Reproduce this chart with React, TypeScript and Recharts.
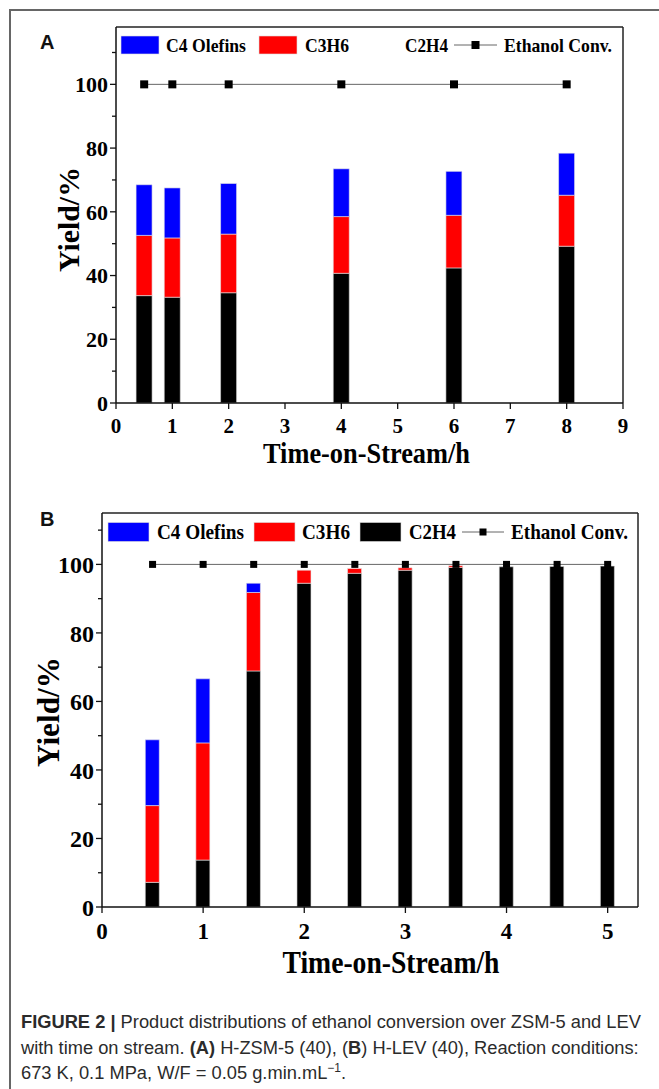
import React from "react";
import { ComposedChart, Bar, Line, XAxis, YAxis, ReferenceLine } from "recharts";

// Panel A: H-ZSM-5 (40)
const timesA = [0.5, 1, 2, 4, 6, 8];
const ethyleneA = [33.7, 33.2, 34.6, 40.7, 42.4, 49.2];
const propyleneA = [18.9, 18.6, 18.4, 17.8, 16.5, 16.0];
const olefinsC4A = [15.9, 15.7, 15.9, 15.0, 13.8, 13.2];
const convA = [100, 100, 100, 100, 100, 100];
const xTicksA = [0, 1, 2, 3, 4, 5, 6, 7, 8, 9];

// Panel B: H-LEV (40)
const timesB = [0.5, 1, 1.5, 2, 2.5, 3, 3.5, 4, 4.5, 5];
const ethyleneB = [7.2, 13.7, 68.9, 94.5, 97.4, 98.3, 99.1, 99.3, 99.4, 99.5];
const propyleneB = [22.4, 34.2, 22.9, 3.8, 1.4, 0.7, 0.5, 0, 0, 0];
const olefinsC4B = [19.2, 18.7, 2.7, 0, 0, 0, 0, 0, 0, 0];
const convB = [100, 100, 100, 100, 100, 100, 100, 100, 100, 100];
const xTicksB = [0, 1, 2, 3, 4, 5];

const yTicks = [0, 10, 20, 30, 40, 50, 60, 70, 80, 90, 100, 110];
const seriesNames = ["C4 Olefins", "C3H6", "C2H4", "Ethanol Conv."];
const colors = { c4: "#0000ff", c3: "#ff0000", c2: "#000000" };

const SERIF = "'Liberation Serif', 'Times New Roman', serif";

type LegendPos = {
  y: number;
  swH: number;
  font: number;
  sw: [number, number][]; // swatch x/width for c4, c3, c2 (c2 may be absent)
  txt: [number, number][]; // text x/length for the four names
  line: [number, number];
  showC2: boolean;
};

type PanelCfg = {
  letter: string;
  letterY: number;
  top: number;
  height: number;
  margin: { top: number; right: number; bottom: number; left: number };
  times: number[];
  c2: number[];
  c3: number[];
  c4: number[];
  conv: number[];
  xDomain: [number, number];
  yMax: number;
  xTicks: number[];
  barSize: number;
  marker: number;
  yFont: number;
  xFont: number;
  xLabelDy: number;
  xTitle: { dx: number; dy: number; len: number; font: number };
  yTitle: { dx: number; dy: number; len: number; font: number };
  legend: LegendPos;
};

const Panel = ({ cfg }: { cfg: PanelCfg }) => {
  const data = cfg.times.map((t, i) => ({
    t,
    c2: cfg.c2[i],
    c3: cfg.c3[i],
    c4: cfg.c4[i],
    conv: cfg.conv[i],
  }));

  const yTick = (props: any) => {
    const { x, y, payload } = props;
    const major = payload.value % 20 === 0;
    return (
      <g>
        <line x1={x} x2={x - (major ? 6 : 4)} y1={y} y2={y} stroke="#111" strokeWidth={1.3} />
        {major && (
          <text x={x - 8} y={y} dy="0.36em" textAnchor="end" fontFamily={SERIF} fontWeight="bold" fontSize={cfg.yFont} fill="#000">
            {payload.value}
          </text>
        )}
      </g>
    );
  };

  const xTick = (props: any) => {
    const { x, y, payload } = props;
    return (
      <g>
        <line x1={x} x2={x} y1={y} y2={y + 6} stroke="#111" strokeWidth={1.3} />
        <text x={x} y={y + cfg.xLabelDy} textAnchor="middle" fontFamily={SERIF} fontWeight="bold" fontSize={cfg.xFont} fill="#000">
          {payload.value}
        </text>
      </g>
    );
  };

  const xTitle = (props: any) => {
    const vb = props.viewBox;
    return (
      <text
        x={vb.x + vb.width / 2 + cfg.xTitle.dx}
        y={vb.y + cfg.xTitle.dy}
        textAnchor="middle"
        fontFamily={SERIF}
        fontWeight="bold"
        fontSize={cfg.xTitle.font}
        textLength={cfg.xTitle.len}
        lengthAdjust="spacingAndGlyphs"
        fill="#000"
      >
        Time-on-Stream/h
      </text>
    );
  };

  const yTitle = (props: any) => {
    const vb = props.viewBox;
    const cx = vb.x + cfg.yTitle.dx;
    const cy = vb.y + vb.height / 2 + cfg.yTitle.dy;
    return (
      <text
        x={cx}
        y={cy}
        transform={`rotate(-90 ${cx} ${cy})`}
        textAnchor="middle"
        fontFamily={SERIF}
        fontWeight="bold"
        fontSize={cfg.yTitle.font}
        textLength={cfg.yTitle.len}
        lengthAdjust="spacingAndGlyphs"
        fill="#000"
      >
        Yield/%
      </text>
    );
  };

  const squareDot = (props: any) => {
    const { cx, cy, index } = props;
    const s = cfg.marker;
    return <rect key={`d${index}`} x={cx - s / 2} y={cy - s / 2} width={s} height={s} fill="#000" />;
  };

  const lg = cfg.legend;
  const swatchFills = [colors.c4, colors.c3, colors.c2];

  return (
    <div style={{ position: "absolute", left: 0, top: cfg.top, width: 659, height: cfg.height }}>
      <ComposedChart width={659} height={cfg.height} data={data} margin={cfg.margin}>
        <XAxis
          dataKey="t"
          type="number"
          domain={cfg.xDomain}
          ticks={cfg.xTicks}
          interval={0}
          allowDataOverflow
          height={60}
          tickSize={0}
          tickMargin={0}
          tickLine={false}
          axisLine={{ stroke: "#111", strokeWidth: 1.5 }}
          tick={xTick}
          label={xTitle}
        />
        <YAxis
          type="number"
          domain={[0, cfg.yMax]}
          ticks={yTicks}
          interval={0}
          allowDataOverflow
          width={60}
          tickSize={0}
          tickMargin={0}
          tickLine={false}
          axisLine={{ stroke: "#111", strokeWidth: 1.5 }}
          tick={yTick}
          label={yTitle}
        />
        <ReferenceLine y={cfg.yMax} stroke="#222" strokeWidth={1.5} />
        <ReferenceLine x={cfg.xDomain[1]} stroke="#222" strokeWidth={1.5} />
        <Bar dataKey="c2" stackId="s" fill={colors.c2} stroke="#d8d8d8" strokeWidth={0.6} barSize={cfg.barSize} isAnimationActive={false} />
        <Bar dataKey="c3" stackId="s" fill={colors.c3} stroke="#e8e8e8" strokeWidth={0.6} barSize={cfg.barSize} isAnimationActive={false} />
        <Bar dataKey="c4" stackId="s" fill={colors.c4} stroke="#e8e8e8" strokeWidth={0.6} barSize={cfg.barSize} isAnimationActive={false} />
        <Line dataKey="conv" type="linear" stroke="#666" strokeWidth={1} dot={squareDot} activeDot={false} isAnimationActive={false} />
      </ComposedChart>
      <svg width={659} height={cfg.height} style={{ position: "absolute", left: 0, top: 0, pointerEvents: "none" }}>
        <text x={40} y={cfg.letterY} fontFamily="'Liberation Sans', Arial, sans-serif" fontWeight="bold" fontSize={20} fill="#111">
          {cfg.letter}
        </text>
        {lg.sw.map(([x, w], i) =>
          i === 2 && !lg.showC2 ? null : (
            <rect key={`sw${i}`} x={x} y={lg.y - lg.swH / 2} width={w} height={lg.swH} fill={swatchFills[i]} stroke="#ddd" strokeWidth={0.6} />
          )
        )}
        {lg.txt.map(([x, len], i) => (
          <text
            key={`lt${i}`}
            x={x}
            y={lg.y}
            dy="0.35em"
            fontFamily={SERIF}
            fontWeight="bold"
            fontSize={lg.font}
            textLength={len}
            lengthAdjust="spacingAndGlyphs"
            fill="#000"
          >
            {seriesNames[i]}
          </text>
        ))}
        <line x1={lg.line[0]} x2={lg.line[1]} y1={lg.y} y2={lg.y} stroke="#666" strokeWidth={1} />
        <rect x={(lg.line[0] + lg.line[1]) / 2 - cfg.marker / 2} y={lg.y - cfg.marker / 2} width={cfg.marker} height={cfg.marker} fill="#000" />
      </svg>
    </div>
  );
};

const panelA: PanelCfg = {
  letter: "A",
  letterY: 49,
  top: 0,
  height: 480,
  margin: { top: 27, right: 36, bottom: 17, left: 56 },
  times: timesA,
  c2: ethyleneA,
  c3: propyleneA,
  c4: olefinsC4A,
  conv: convA,
  xDomain: [0, 9],
  yMax: 118,
  xTicks: xTicksA,
  barSize: 16,
  marker: 8,
  yFont: 22,
  xFont: 21,
  xLabelDy: 30,
  xTitle: { dx: -3, dy: 60, len: 207, font: 29 },
  yTitle: { dx: 23, dy: 4.5, len: 105, font: 30 },
  legend: {
    y: 45,
    swH: 18,
    font: 19,
    sw: [[121, 38], [259, 38], [0, 0]],
    txt: [[166, 80], [305, 44], [405, 43], [504, 108]],
    line: [454, 497],
    showC2: false,
  },
};

const panelB: PanelCfg = {
  letter: "B",
  letterY: 46,
  top: 480,
  height: 500,
  margin: { top: 33, right: 21, bottom: 13, left: 42 },
  times: timesB,
  c2: ethyleneB,
  c3: propyleneB,
  c4: olefinsC4B,
  conv: convB,
  xDomain: [0, 5.3],
  yMax: 115,
  xTicks: xTicksB,
  barSize: 14,
  marker: 7,
  yFont: 24,
  xFont: 23,
  xLabelDy: 32,
  xTitle: { dx: 21, dy: 66, len: 217, font: 31 },
  yTitle: { dx: 17, dy: 2, len: 110, font: 31 },
  legend: {
    y: 52,
    swH: 19,
    font: 21,
    sw: [[108, 41], [254, 41], [360, 41]],
    txt: [[157, 87], [302, 48], [409, 47], [511, 117]],
    line: [462, 504],
    showC2: true,
  },
};

const App = () => (
  <div style={{ position: "absolute", left: 0, top: 0, width: 659, height: 1089, overflow: "hidden", background: "#fff" }}>
    <div
      style={{
        position: "absolute",
        left: 9,
        top: 9,
        width: 720,
        height: 1120,
        borderLeft: "2px solid #666",
        borderTop: "2px solid #666",
      }}
    />
    <Panel cfg={panelA} />
    <Panel cfg={panelB} />
    <div
      style={{
        position: "absolute",
        left: 21,
        top: 1009,
        width: 636,
        fontFamily: "'Liberation Sans', Arial, sans-serif",
        fontSize: 18.3,
        lineHeight: "25.5px",
        color: "#2b2b2b",
        whiteSpace: "nowrap",
      }}
    >
      <div>
        <b>FIGURE 2 |</b> Product distributions of ethanol conversion over ZSM-5 and LEV
      </div>
      <div>
        with time on stream. <b>(A)</b> H-ZSM-5 (40), (<b>B</b>) H-LEV (40), Reaction conditions:
      </div>
      <div>
        673 K, 0.1 MPa, W/F = 0.05 g.min.mL<sup style={{ fontSize: 12, lineHeight: 0 }}>−1</sup>.
      </div>
    </div>
  </div>
);

export default App;
